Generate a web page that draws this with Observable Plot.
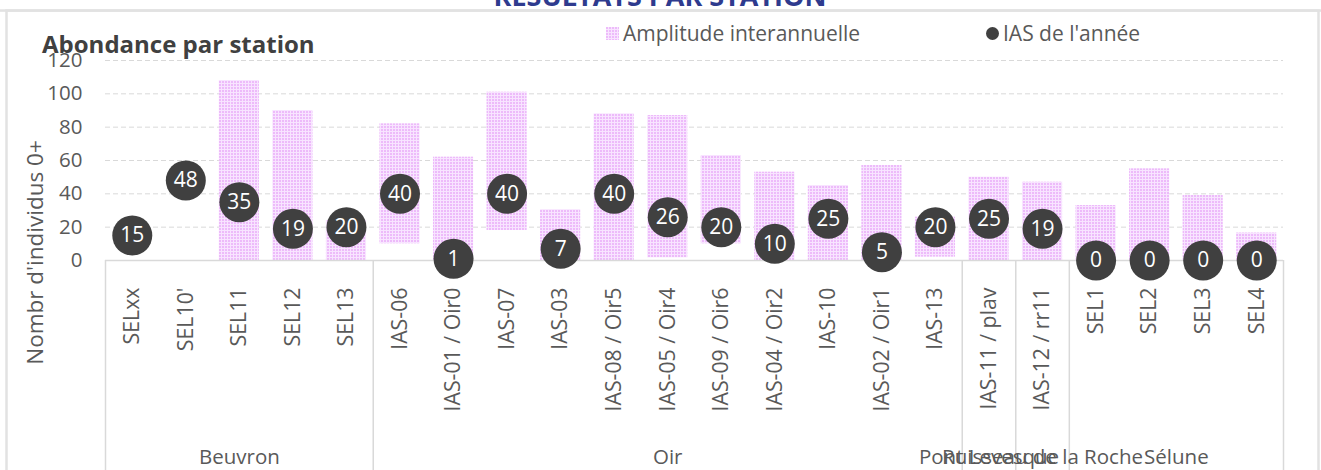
<!DOCTYPE html>
<html>
<head>
<meta charset="utf-8">
<script src="https://cdn.jsdelivr.net/npm/d3@7"></script>
<script src="https://cdn.jsdelivr.net/npm/@observablehq/plot@0.6"></script>
<style>
  html, body { margin: 0; padding: 0; background: #fff; }
  #chart svg { display: block; }
</style>
</head>
<body>
<div id="chart"></div>
<script>
// ---- Data ----
const stations = ["SELxx", "SEL10'", "SEL11", "SEL12", "SEL13",
  "IAS-06", "IAS-01 / Oir0", "IAS-07", "IAS-03", "IAS-08 / Oir5", "IAS-05 / Oir4",
  "IAS-09 / Oir6", "IAS-04 / Oir2", "IAS-10", "IAS-02 / Oir1", "IAS-13",
  "IAS-11 / plav", "IAS-12 / rr11", "SEL1", "SEL2", "SEL3", "SEL4"];
const ampMin = [null, null, 0, 0, 0, 10, 0, 18, 0, 0, 1.6, 10, 0, 0, 0, 2, 0, 0, 0, 0, 0, 0];
const ampMax = [null, null, 108, 90, 24, 82, 62, 101, 30.5, 88, 87, 63, 53, 45, 57, 26, 50, 47, 33, 55, 39, 16.5];
const iasValues = [15, 48, 35, 19, 20, 40, 1, 40, 7, 40, 26, 20, 10, 25, 5, 20, 25, 19, 0, 0, 0, 0];
const groupNames = ["Beuvron", "Oir", "Pont Levesque", "Ruisseau de la Roche", "Sélune"];
const groupCounts = [5, 11, 1, 1, 4];
const yTicks = [0, 20, 40, 60, 80, 100, 120];

// ---- Derived tables ----
const rows = stations.map((s, i) => ({i, station: s, min: ampMin[i], max: ampMax[i], ias: iasValues[i]}));
const bars = rows.filter(d => d.max != null);
let acc = 0;
const groups = groupNames.map((name, k) => { const g = {name, start: acc, n: groupCounts[k]}; acc += groupCounts[k]; return g; });
const boundaries = [0, ...groups.map(g => g.start + g.n)];

const W = 1321, H = 470;
const txt = "#595959";
const FONT = "'Open Sans', sans-serif";

const chart = Plot.plot({
  width: W, height: H,
  marginLeft: 105, marginRight: 38, marginTop: 60, marginBottom: 210,
  style: {fontFamily: FONT, fontSize: "20px", color: txt, background: "#fff", overflow: "visible"},
  x: {domain: [0, stations.length], axis: null},
  y: {domain: [0, 120], axis: null},
  marks: [
    Plot.gridY(yTicks.filter(t => t > 0), {stroke: "#D9D9D9", strokeOpacity: 1, strokeDasharray: "5,3"}),
    Plot.rect(bars, {x1: "i", x2: d => d.i + 1, y1: "min", y2: "max", insetLeft: 6.7, insetRight: 6.7, fill: "url(#chk)"}),
    Plot.ruleY([0], {stroke: "#D9D9D9", strokeWidth: 1.5}),
    Plot.ruleX(boundaries, {x: d => d, stroke: "#D9D9D9", strokeWidth: 1.5, insetTop: 200, insetBottom: -215}),
    Plot.axisY({ticks: yTicks, tickSize: 0, tickPadding: 23, fontSize: 20.5, fill: txt, label: null}),
    Plot.text(["Nombr d'individus 0+"], {frameAnchor: "left", textAnchor: "middle", lineAnchor: "middle", rotate: -90, dx: -70, dy: 92, fontSize: 22.5, fill: txt}),
    Plot.text(rows, {x: d => d.i + 0.5, frameAnchor: "bottom", text: "station", rotate: -90, textAnchor: "end", lineAnchor: "middle", dy: 27, fontSize: 21.3, fill: txt}),
    Plot.text(groups, {x: d => d.start + d.n / 2, frameAnchor: "bottom", text: "name", textAnchor: "middle", lineAnchor: "middle", dy: 197, fontSize: 20.5, fill: txt}),
    Plot.dot(rows, {x: d => d.i + 0.5, y: "ias", r: 20, fill: "#404040", stroke: "none"}),
    Plot.text(rows, {x: d => d.i + 0.5, y: "ias", text: d => String(d.ias), fill: "#fff", fontSize: 21})
  ]
});

const svg = d3.select(chart);
// pattern for amplitude bars
const defs = svg.insert("defs", ":first-child");
const pat = defs.append("pattern").attr("id", "chk").attr("patternUnits", "userSpaceOnUse").attr("width", 3).attr("height", 3);
pat.append("rect").attr("width", 3).attr("height", 3).attr("fill", "#F8E4FF");
pat.append("rect").attr("width", 2).attr("height", 2).attr("fill", "#EDBBFA");

// outer chart frame
svg.append("rect").attr("x", 6.5).attr("y", 10.5).attr("width", 1312).attr("height", 480)
  .attr("fill", "none").attr("stroke", "#E2E2E2").attr("stroke-width", 2.5);

// top (cut-off) page title
svg.append("text").attr("x", 660).attr("y", 6).attr("text-anchor", "middle")
  .attr("font-family", FONT).attr("font-weight", 700).attr("font-size", 27)
  .attr("fill", "#2E3B8E").text("RÉSULTATS PAR STATION");
svg.append("rect").attr("x", 0).attr("y", 9.3).attr("width", W).attr("height", 2.5).attr("fill", "#E2E2E2");

// chart title
svg.append("text").attr("x", 42).attr("y", 53).attr("text-anchor", "start")
  .attr("font-family", FONT).attr("font-weight", 700).attr("font-size", 24)
  .attr("fill", "#404040").text("Abondance par station");

// legend
const lg = svg.append("g").attr("font-family", FONT).attr("font-size", 21).attr("fill", txt).attr("text-anchor", "start");
lg.append("rect").attr("x", 606).attr("y", 27).attr("width", 13).attr("height", 13).attr("fill", "url(#chk)");
lg.append("text").attr("x", 623).attr("y", 40.5).text("Amplitude interannuelle");
lg.append("circle").attr("cx", 992.5).attr("cy", 33.5).attr("r", 6.5).attr("fill", "#404040");
lg.append("text").attr("x", 1003).attr("y", 40.5).text("IAS de l'année");

document.getElementById("chart").appendChild(chart);
</script>
</body>
</html>
